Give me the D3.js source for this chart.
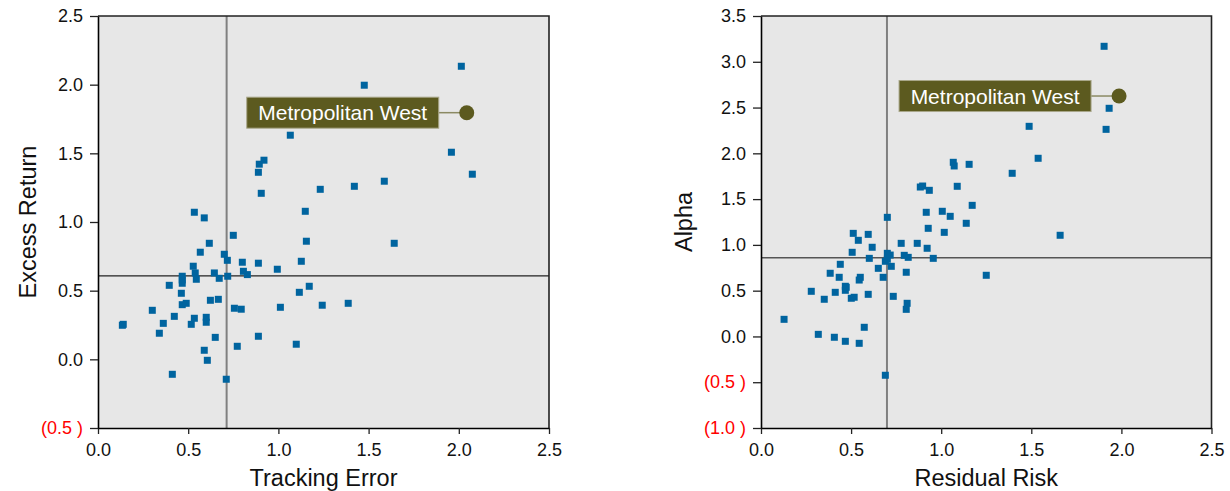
<!DOCTYPE html>
<html>
<head>
<meta charset="utf-8">
<script src="https://cdn.jsdelivr.net/npm/d3@7"></script>
<style>
  html, body { margin: 0; padding: 0; background: #fff; }
  svg { display: block; font-family: "Liberation Sans", Arial, sans-serif; }
</style>
</head>
<body>
<svg id="chart" width="1230" height="491"></svg>
<script>
// ---- Data ----
const trackingError = [1.066,0.920,0.894,0.889,0.905,1.232,1.149,0.534,0.589,2.014,1.476,1.959,2.075,1.421,1.587,0.750,1.155,0.617,0.567,0.700,0.717,0.800,0.889,1.127,0.994,0.528,0.806,0.828,0.539,0.645,0.467,0.545,0.672,0.719,0.467,0.467,0.395,1.171,1.116,0.462,0.623,0.667,0.467,0.489,0.756,0.794,1.011,0.301,0.423,0.534,0.600,0.600,0.517,0.362,0.140,0.135,0.340,0.650,0.889,1.099,0.772,0.589,0.606,0.412,0.711,1.642,1.243,1.387];
const excessReturn = [1.632,1.450,1.421,1.362,1.209,1.238,1.078,1.071,1.030,2.134,1.996,1.508,1.348,1.260,1.297,0.903,0.860,0.845,0.780,0.765,0.721,0.707,0.700,0.714,0.656,0.678,0.641,0.617,0.629,0.629,0.605,0.583,0.590,0.605,0.578,0.554,0.539,0.532,0.488,0.481,0.430,0.437,0.398,0.408,0.372,0.365,0.379,0.357,0.313,0.299,0.306,0.270,0.255,0.262,0.255,0.248,0.190,0.160,0.168,0.110,0.095,0.066,-0.007,-0.109,-0.145,0.845,0.394,0.408];

const residualRisk = [1.067,1.072,1.155,0.884,0.897,0.934,1.089,1.172,0.917,1.006,1.050,0.701,1.904,1.932,1.915,1.488,1.538,1.394,1.139,0.928,1.017,0.512,0.595,0.540,0.778,0.867,0.617,0.922,0.506,0.701,0.717,0.795,0.817,0.601,0.956,0.690,0.701,0.440,0.651,0.723,0.384,0.806,0.434,0.551,0.545,0.678,1.250,0.468,0.473,0.468,0.279,0.412,0.595,0.351,0.501,0.517,0.734,0.811,0.806,0.128,0.573,0.318,0.407,0.468,0.545,0.690,1.660];
const alpha = [1.902,1.862,1.880,1.632,1.643,1.596,1.640,1.432,1.356,1.367,1.312,1.301,3.169,2.492,2.262,2.295,1.946,1.782,1.236,1.181,1.137,1.126,1.115,1.050,1.017,1.017,0.974,0.963,0.919,0.908,0.889,0.886,0.864,0.853,0.853,0.821,0.843,0.788,0.744,0.766,0.690,0.701,0.646,0.646,0.616,0.646,0.668,0.548,0.537,0.504,0.493,0.482,0.460,0.406,0.417,0.428,0.438,0.362,0.296,0.187,0.100,0.023,-0.009,-0.053,-0.075,-0.424,1.105];

const highlightName = "Metropolitan West";
const highlightLeft = [2.044, 1.796];
const highlightRight = [1.987, 2.626];

const refLeft = [0.713, 0.607];   // [vertical x, horizontal y]
const refRight = [0.699, 0.86];

const xTicks = [0, 0.5, 1.0, 1.5, 2.0, 2.5];
const yTicksLeft = [-0.5, 0, 0.5, 1.0, 1.5, 2.0, 2.5];
const yTicksRight = [-1.0, -0.5, 0, 0.5, 1.0, 1.5, 2.0, 2.5, 3.0, 3.5];

// ---- Drawing ----
const svg = d3.select("#chart");
const font = '"Liberation Sans", Arial, sans-serif';
const pointColor = "#00649f";
const olive = "#5c5a1f";

function panel(cfg) {
  const g = svg.append("g");
  const x = d3.scaleLinear().domain([0, 2.5]).range([cfg.left, cfg.right]);
  const y = d3.scaleLinear().domain(cfg.yDomain).range([cfg.bottom, cfg.top]);

  g.append("rect")
    .attr("x", cfg.left).attr("y", cfg.top)
    .attr("width", cfg.right - cfg.left).attr("height", cfg.bottom - cfg.top)
    .attr("fill", "#e7e7e7");

  // reference lines
  g.append("line")
    .attr("x1", x(cfg.ref[0])).attr("x2", x(cfg.ref[0]))
    .attr("y1", cfg.top).attr("y2", cfg.bottom)
    .attr("stroke", "#808080").attr("stroke-width", 2);
  g.append("line")
    .attr("x1", cfg.left).attr("x2", cfg.right)
    .attr("y1", y(cfg.ref[1])).attr("y2", y(cfg.ref[1]))
    .attr("stroke", cfg.hColor).attr("stroke-width", cfg.hWidth);

  // points
  const data = cfg.xs.map((v, i) => [v, cfg.ys[i]]);
  const s = 7;
  g.selectAll("rect.pt").data(data).enter().append("rect")
    .attr("class", "pt")
    .attr("x", d => x(d[0]) - s / 2).attr("y", d => y(d[1]) - s / 2)
    .attr("width", s).attr("height", s)
    .attr("fill", pointColor);

  // border (top/right)
  g.append("path")
    .attr("d", `M${cfg.left},${cfg.top}H${cfg.right}V${cfg.bottom}`)
    .attr("fill", "none").attr("stroke", "#222").attr("stroke-width", 1.6);

  // axes
  const fmt = v => v < 0 ? "(" + Math.abs(v).toFixed(1) + " )" : v.toFixed(1);
  const xAxis = g.append("g").attr("transform", `translate(0,${cfg.bottom})`)
    .call(d3.axisBottom(x).tickValues(xTicks).tickFormat(fmt).tickSize(6).tickSizeOuter(0).tickPadding(5));
  const yAxis = g.append("g").attr("transform", `translate(${cfg.left},0)`)
    .call(d3.axisLeft(y).tickValues(cfg.yTicks).tickFormat(fmt).tickSize(8).tickSizeOuter(0).tickPadding(7));
  [xAxis, yAxis].forEach(a => {
    a.select(".domain").attr("stroke", "#000").attr("stroke-width", 1.6);
    a.selectAll(".tick line").attr("stroke", "#222").attr("stroke-width", 1.3);
    a.selectAll(".tick text").attr("font-family", font).attr("font-size", 18).attr("fill", "#111");
  });
  yAxis.selectAll(".tick text").attr("fill", d => d < 0 ? "#ff0000" : "#111");
  xAxis.selectAll(".tick text").attr("dy", "0.95em");

  // axis titles
  g.append("text")
    .attr("x", (cfg.left + cfg.right) / 2).attr("y", cfg.bottom + 58)
    .attr("text-anchor", "middle").attr("font-family", font).attr("font-size", 23.5)
    .attr("fill", "#111").text(cfg.xTitle);
  g.append("text")
    .attr("transform", `translate(${cfg.yTitleX},${(cfg.top + cfg.bottom) / 2}) rotate(-90)`)
    .attr("text-anchor", "middle").attr("dy", "0.35em").attr("font-family", font).attr("font-size", 23.5)
    .attr("fill", "#111").text(cfg.yTitle);

  // highlight
  const cx = x(cfg.hl[0]), cy = y(cfg.hl[1]);
  const bw = 192, bh = 31, gap = 28;
  g.append("line")
    .attr("x1", cx - gap).attr("x2", cx).attr("y1", cy).attr("y2", cy)
    .attr("stroke", "#8b8a63").attr("stroke-width", 1.5);
  g.append("rect")
    .attr("x", cx - gap - bw).attr("y", cy - bh / 2)
    .attr("width", bw).attr("height", bh)
    .attr("fill", olive).attr("stroke", "#a9a78a").attr("stroke-width", 1);
  g.append("text")
    .attr("x", cx - gap - bw / 2).attr("y", cy).attr("dy", "0.36em")
    .attr("text-anchor", "middle").attr("font-family", font).attr("font-size", 21)
    .attr("fill", "#ffffff").text(highlightName);
  g.append("circle")
    .attr("cx", cx).attr("cy", cy).attr("r", 7.5)
    .attr("fill", olive);
}

panel({
  left: 98, right: 549, top: 16, bottom: 428,
  yDomain: [-0.5, 2.5], yTicks: yTicksLeft,
  xs: trackingError, ys: excessReturn,
  ref: refLeft, hColor: "#222", hWidth: 1.2,
  hl: highlightLeft,
  xTitle: "Tracking Error", yTitle: "Excess Return", yTitleX: 28
});

panel({
  left: 761, right: 1211.5, top: 16, bottom: 428,
  yDomain: [-1.0, 3.5], yTicks: yTicksRight,
  xs: residualRisk, ys: alpha,
  ref: refRight, hColor: "#555", hWidth: 1.5,
  hl: highlightRight,
  xTitle: "Residual Risk", yTitle: "Alpha", yTitleX: 684
});
</script>
</body>
</html>
